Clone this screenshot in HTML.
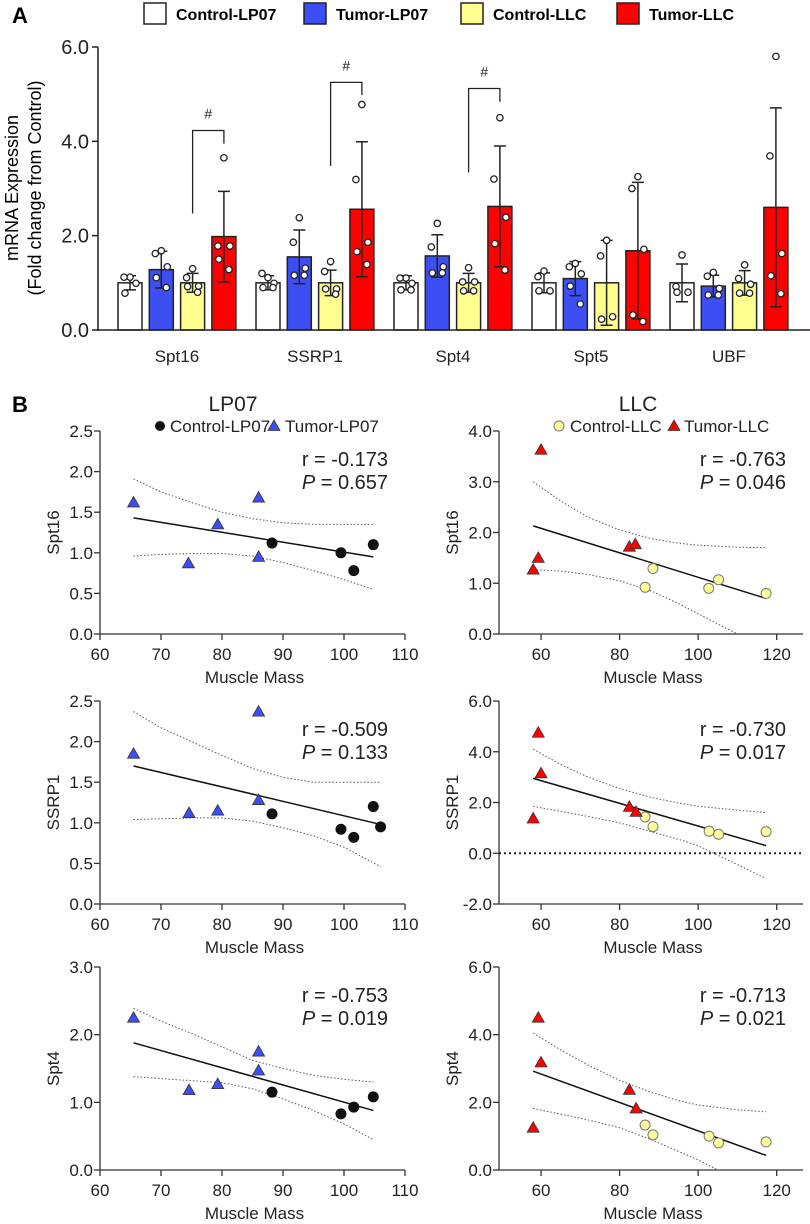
<!DOCTYPE html>
<html><head><meta charset="utf-8"><style>
html,body{margin:0;padding:0;background:#fff;}
svg{display:block;font-family:"Liberation Sans",Arial,sans-serif;}
</style></head><body>
<svg id="fig" width="810" height="1224" viewBox="0 0 810 1224" xmlns="http://www.w3.org/2000/svg">
<defs id="defs"></defs>
<text x="12" y="23" font-size="22" font-weight="bold">A</text>
<text x="12" y="412" font-size="22" font-weight="bold">B</text>
<g id="legendA">
<rect x="144" y="3" width="22" height="21" fill="#fff" stroke="#222" stroke-width="1.5"/>
<text x="176" y="20" font-size="16" font-weight="bold">Control-LP07</text>
<rect x="304" y="3" width="22" height="21" fill="#3d4ef5" stroke="#222" stroke-width="1.5"/>
<text x="336" y="20" font-size="16" font-weight="bold">Tumor-LP07</text>
<rect x="461" y="3" width="22" height="21" fill="#ffff8f" stroke="#222" stroke-width="1.5"/>
<text x="493" y="20" font-size="16" font-weight="bold">Control-LLC</text>
<rect x="617" y="3" width="22" height="21" fill="#ff0000" stroke="#222" stroke-width="1.5"/>
<text x="649" y="20" font-size="16" font-weight="bold">Tumor-LLC</text>
</g>
<g id="barChart"></g>
<g id="scatters"></g>
</svg>
<script>
// ---------- Panel A data ----------
const cats = ["Spt16","SSRP1","Spt4","Spt5","UBF"];
const ctrlLP07Mean = [1,1,1,1,1];
const tumorLP07Mean = [1.28,1.55,1.57,1.09,0.93];
const ctrlLLCMean = [1,1,1,1,1];
const tumorLLCMean = [1.98,2.56,2.62,1.68,2.6];
const ctrlLP07SD = [0.15,0.15,0.15,0.21,0.4];
const tumorLP07SD = [0.39,0.57,0.45,0.36,0.23];
const ctrlLLCSD = [0.2,0.27,0.2,0.9,0.26];
const tumorLLCSD = [0.96,1.43,1.28,1.45,2.11];
const ctrlLP07Pts = [[1.12,1.12,0.99,0.78],[1.11,1.2,0.99,0.9,0.9],[1.1,1.1,0.99,0.85,0.85],[1.25,1.13,0.83,0.83],[1.59,0.92,0.8,0.8]];
const tumorLP07Pts = [[1.68,1.62,1.34,1.11,0.9],[2.38,1.86,1.31,1.16,1.16],[2.26,1.76,1.34,1.21,1.21],[1.41,1.34,1.19,0.93,0.55],[1.22,1.14,0.88,0.74,0.74]];
const ctrlLLCPts = [[1.3,1.11,0.93,0.92,0.8],[1.45,1.24,0.87,0.87,0.76],[1.32,1.02,1.02,0.83,0.83],[1.9,1.57,0.28,0.23],[1.38,1.09,0.97,0.78,0.78]];
const tumorLLCPts = [[3.65,1.78,1.78,1.5,1.28],[4.78,3.19,1.86,1.66,1.39],[4.5,3.2,2.39,1.83,1.27],[3.25,3.0,1.71,0.32,0.18],[5.8,3.69,1.62,1.15,0.77]];
const yTicksA = [0,2,4,6];
const yTickLabelsA = ["0.0","2.0","4.0","6.0"];
const bracketCat = [0,1,2];
const bracketLeft = [2.47,3.48,3.34];
const bracketRight = [3.95,4.98,4.84];
const bracketTop = [4.23,5.25,5.12];

// ---------- Panel B data ----------
const rowLabels = ["Spt16","SSRP1","Spt4"];
const lpCtrlX = [[88.2,99.5,101.6,104.8],[88.2,99.5,101.6,104.8,106],[88.2,99.5,101.6,104.8]];
const lpCtrlY = [[1.12,1.0,0.78,1.1],[1.11,0.92,0.82,1.2,0.95],[1.15,0.83,0.93,1.08]];
const lpTumX = [[65.5,74.5,79.3,86,86],[65.5,74.6,79.3,86,86],[65.5,74.6,79.3,86,86]];
const lpTumY = [[1.62,0.87,1.35,1.68,0.95],[1.85,1.12,1.15,2.37,1.28],[2.25,1.18,1.27,1.75,1.47]];
const lpFitX = [[65.5,104.8],[65.5,106],[65.5,104.8]];
const lpFitY = [[1.43,0.95],[1.7,0.98],[1.88,0.88]];
const lpCIx = [[65.5,70,75,80,85,90,95,100,104.8],[65.5,70,75,80,85,90,95,100,106],[65.5,70,75,80,85,90,95,100,104.8]];
const lpCIup = [[1.91,1.75,1.62,1.5,1.42,1.37,1.35,1.35,1.35],[2.37,2.17,2.0,1.83,1.67,1.56,1.5,1.5,1.5],[2.39,2.2,2.02,1.82,1.62,1.5,1.4,1.34,1.3]];
const lpCIlo = [[0.96,0.98,0.99,0.99,0.96,0.88,0.78,0.67,0.55],[1.04,1.05,1.06,1.06,1.02,0.94,0.84,0.7,0.46],[1.38,1.35,1.32,1.29,1.2,1.05,0.88,0.68,0.45]];
const lpYMax = [2.5,2.5,3];
const lpYStep = [0.5,0.5,1];
const lpR = ["r = -0.173","r = -0.509","r = -0.753"];
const lpP = ["0.657","0.133","0.019"];
const lpXTicks = [60,70,80,90,100,110];

const llcCtrlX = [[86.5,88.5,102.7,105.2,117.3],[86.5,88.5,102.8,105.2,117.3],[86.5,88.5,102.8,105.2,117.3]];
const llcCtrlY = [[0.92,1.29,0.9,1.07,0.8],[1.43,1.05,0.87,0.75,0.85],[1.33,1.04,1.0,0.8,0.83]];
const llcTumX = [[60,59.3,58,82.5,84],[59.3,60,58,82.5,84.2],[59.3,60,58,82.5,84.2]];
const llcTumY = [[3.63,1.5,1.27,1.72,1.77],[4.75,3.15,1.37,1.83,1.63],[4.5,3.18,1.25,2.37,1.82]];
const llcFitX = [[58,117.3],[58,117.3],[58,117.3]];
const llcFitY = [[2.13,0.7],[2.95,0.3],[2.92,0.43]];
const llcCIx = [[58,65,72,80,88,95,100,110,117.3],[58,65,72,80,88,95,100,110,117.3],[58,65,72,80,88,95,100,110,117.3]];
const llcCIup = [[3.0,2.62,2.3,2.05,1.88,1.79,1.75,1.71,1.7],[4.1,3.5,3.0,2.55,2.2,1.98,1.85,1.7,1.6],[4.05,3.55,3.1,2.65,2.3,2.05,1.92,1.78,1.72]];
const llcCIlo = [[1.27,1.24,1.17,1.05,0.85,0.6,0.4,0.0,-0.3],[1.85,1.65,1.45,1.2,0.85,0.55,0.3,-0.45,-1.0],[1.82,1.65,1.48,1.25,0.9,0.55,0.3,-0.3,-0.7]];
const llcYMin = [0,-2,0];
const llcYMax = [4,6,6];
const llcYStep = [1,2,2];
const llcR = ["r = -0.763","r = -0.730","r = -0.713"];
const llcP = ["0.046","0.017","0.021"];
const llcXTicks = [60,80,100,120];

const NS = "http://www.w3.org/2000/svg";
function mk(parent, tag, attrs, text){
  const e = document.createElementNS(NS, tag);
  for (const k in attrs) e.setAttribute(k, attrs[k]);
  if (text !== undefined) e.textContent = text;
  parent.appendChild(e);
  return e;
}

// ---------- Panel A drawing ----------
(function(){
  const g = document.getElementById('barChart');
  const y0 = 330, pxPerUnit = 47.17;
  const yA = v => y0 - v*pxPerUnit;
  const xBar = (c,s) => 118 + c*138 + s*31.3;
  const bw = 24;
  const means = [ctrlLP07Mean,tumorLP07Mean,ctrlLLCMean,tumorLLCMean];
  const sds = [ctrlLP07SD,tumorLP07SD,ctrlLLCSD,tumorLLCSD];
  const pts = [ctrlLP07Pts,tumorLP07Pts,ctrlLLCPts,tumorLLCPts];
  const fills = ["#ffffff","#3d4ef5","#ffff8f","#ff0000"];
  const sNames = ["control-lp07","tumor-lp07","control-llc","tumor-llc"];
  const jit = [0,-6,6,-5,5];
  let e = mk(g,'line',{x1:98,y1:yA(6),x2:98,y2:y0+1,stroke:'#222','stroke-width':1.5});
  
  
  yTicksA.forEach((t,i)=>{
    const tk = mk(g,'line',{x1:92,y1:yA(t),x2:98,y2:yA(t),stroke:'#222','stroke-width':1.5});
    
    
    const tl = mk(g,'text',{x:89,y:yA(t)+7,'font-size':20,'text-anchor':'end',fill:'#222'},yTickLabelsA[i]);
    
    
  });
  const t1 = mk(g,'text',{x:0,y:0,'font-size':18,'text-anchor':'middle',transform:'translate(18,188) rotate(-90)'},'mRNA Expression');
  
  
  const t2 = mk(g,'text',{x:0,y:0,'font-size':18,'text-anchor':'middle',transform:'translate(41,188) rotate(-90)'},'(Fold change from Control)');
  
  
  cats.forEach((c,ci)=>{
    for (let s=0;s<4;s++){
      const x = xBar(ci,s), m = means[s][ci], sd = sds[s][ci];
      const r = mk(g,'rect',{x:x,y:yA(m),width:bw,height:y0-yA(m),fill:fills[s],stroke:'#222','stroke-width':1.5});
      
      
      const cx = x+bw/2;
      const eb = mk(g,'path',{d:`M${cx},${yA(m+sd)}V${yA(Math.max(0,m-sd))}M${cx-6},${yA(m+sd)}H${cx+6}M${cx-6},${yA(Math.max(0,m-sd))}H${cx+6}`,stroke:'#222','stroke-width':1.5,fill:'none'});
      
      
      pts[s][ci].forEach((v,pi)=>{
        const p = mk(g,'circle',{cx:cx+jit[pi%5],cy:yA(v),r:3.2,fill:'#fff',stroke:'#222','stroke-width':1.3});
        
        
      });
    }
    const cl = mk(g,'text',{x:xBar(ci,1.5)+bw/2,y:362,'font-size':17,'text-anchor':'middle',fill:'#222'},c);
    
    
  });
  e = mk(g,'line',{x1:97,y1:y0,x2:810,y2:y0,stroke:'#222','stroke-width':1.5});
  
  
  bracketCat.forEach((c,i)=>{
    const xl = xBar(c,2)+bw/2, xr = xBar(c,3)+bw/2;
    const b = mk(g,'path',{d:`M${xl},${yA(bracketLeft[i])}V${yA(bracketTop[i])}H${xr}V${yA(bracketRight[i])}`,stroke:'#222','stroke-width':1.3,fill:'none'});
    
    
    const h = mk(g,'text',{x:(xl+xr)/2,y:yA(bracketTop[i])-12,'font-size':14,'text-anchor':'middle',fill:'#222'},'#');
    
    
  });
})();

// ---------- Panel B drawing ----------
(function(){
  const g = document.getElementById('scatters');
  const defs = document.getElementById('defs');
  const tops = [431,701,967], H = 203;
  let clipN = 0;
  function panel(opts){
    const {ax0, ax1, xmin, xmax, ymin, ymax, step, top, xTicks, ylab, labX, ctrlX, ctrlY, tumX, tumY, fitX, fitY, ciX, ciUp, ciLo, r, p, ctrlFill, ctrlStroke, tumFill, zeroLine, name} = opts;
    const pg = mk(g,'g',{});
    
    
    const X = v => ax0 + (v-xmin)/(xmax-xmin)*(ax1-ax0);
    const Y = v => top + H - (v-ymin)/(ymax-ymin)*H;
    const cid = 'clip'+(clipN++);
    const cp = mk(defs,'clipPath',{id:cid});
    mk(cp,'rect',{x:ax0,y:top-20,width:ax1-ax0,height:H+20});
    let e = mk(pg,'line',{x1:ax0,y1:top,x2:ax0,y2:top+H,stroke:'#333','stroke-width':1.3});
    
    
    e = mk(pg,'line',{x1:ax0,y1:top+H,x2:ax1,y2:top+H,stroke:'#333','stroke-width':1.3});
    
    
    for (let v=ymin; v<=ymax+1e-9; v+=step){
      const tk = mk(pg,'line',{x1:ax0-6,y1:Y(v),x2:ax0,y2:Y(v),stroke:'#333','stroke-width':1.3});
      
      
      const tl = mk(pg,'text',{x:ax0-7,y:Y(v)+6,'font-size':17,'text-anchor':'end',fill:'#222'},v.toFixed(1));
      
      
    }
    xTicks.forEach(v=>{
      const tk = mk(pg,'line',{x1:X(v),y1:top+H,x2:X(v),y2:top+H+6,stroke:'#333','stroke-width':1.3});
      
      
      const tl = mk(pg,'text',{x:X(v),y:top+H+26,'font-size':17,'text-anchor':'middle',fill:'#222'},String(v));
      
      
    });
    e = mk(pg,'text',{x:(ax0+ax1)/2+2,y:top+H+49,'font-size':17,'text-anchor':'middle',fill:'#222'},'Muscle Mass');
    
    
    e = mk(pg,'text',{x:0,y:0,'font-size':17,'text-anchor':'middle',fill:'#222',transform:`translate(${labX},${top+H/2}) rotate(-90)`},ylab);
    
    
    if (zeroLine){
      e = mk(pg,'line',{x1:ax0,y1:Y(0),x2:ax1-2,y2:Y(0),stroke:'#222','stroke-width':2,'stroke-dasharray':'2,3'});
      
      
    }
    const cg = mk(pg,'g',{'clip-path':`url(#${cid})`});
    
    
    const up = ciX.map((v,i)=>`${i?'L':'M'}${X(v)},${Y(ciUp[i])}`).join('');
    const lo = ciX.map((v,i)=>`${i?'L':'M'}${X(v)},${Y(ciLo[i])}`).join('');
    e = mk(cg,'path',{d:up,fill:'none',stroke:'#555','stroke-width':1,'stroke-dasharray':'1.5,2'});
    
    
    e = mk(cg,'path',{d:lo,fill:'none',stroke:'#555','stroke-width':1,'stroke-dasharray':'1.5,2'});
    
    
    e = mk(pg,'line',{x1:X(fitX[0]),y1:Y(fitY[0]),x2:X(fitX[1]),y2:Y(fitY[1]),stroke:'#111','stroke-width':1.5});
    
    
    ctrlX.forEach((v,i)=>{
      const c = mk(pg,'circle',{cx:X(v),cy:Y(ctrlY[i]),r:5,fill:ctrlFill,stroke:ctrlStroke,'stroke-width':1});
      
      
    });
    tumX.forEach((v,i)=>{
      const cx = X(v), cy = Y(tumY[i]);
      const t = mk(pg,'path',{d:`M${cx},${cy-6}L${cx+6},${cy+4.5}L${cx-6},${cy+4.5}Z`,fill:tumFill,stroke:'#333','stroke-width':0.8});
      
      
    });
    e = mk(pg,'text',{x:ax1-17,y:top+35,'font-size':20,'text-anchor':'end',fill:'#222'},r);
    
    
    e = mk(pg,'text',{x:ax1-17,y:top+58,'font-size':20,'text-anchor':'end',fill:'#222'});
    
    
    mk(e,'tspan',{'font-style':'italic'},'P');
    mk(e,'tspan',{},' = '+p);
  }
  for (let i=0;i<3;i++){
    panel({name:'scatter-lp07-'+rowLabels[i].toLowerCase(),ax0:100,ax1:405,xmin:60,xmax:110,ymin:0,ymax:lpYMax[i],step:lpYStep[i],top:tops[i],xTicks:lpXTicks,ylab:rowLabels[i],labX:59,ctrlX:lpCtrlX[i],ctrlY:lpCtrlY[i],tumX:lpTumX[i],tumY:lpTumY[i],fitX:lpFitX[i],fitY:lpFitY[i],ciX:lpCIx[i],ciUp:lpCIup[i],ciLo:lpCIlo[i],r:lpR[i],p:lpP[i],ctrlFill:'#111',ctrlStroke:'#111',tumFill:'#3d4ef5',zeroLine:false});
    panel({name:'scatter-llc-'+rowLabels[i].toLowerCase(),ax0:499,ax1:803,xmin:49.3,xmax:126.7,ymin:llcYMin[i],ymax:llcYMax[i],step:llcYStep[i],top:tops[i],xTicks:llcXTicks,ylab:rowLabels[i],labX:458,ctrlX:llcCtrlX[i],ctrlY:llcCtrlY[i],tumX:llcTumX[i],tumY:llcTumY[i],fitX:llcFitX[i],fitY:llcFitY[i],ciX:llcCIx[i],ciUp:llcCIup[i],ciLo:llcCIlo[i],r:llcR[i],p:llcP[i],ctrlFill:'#ffff99',ctrlStroke:'#777',tumFill:'#ff0000',zeroLine:i===1});
  }
  let e = mk(g,'text',{x:233,y:411,'font-size':21,'text-anchor':'middle',fill:'#222'},'LP07');
  
  
  e = mk(g,'text',{x:638,y:411,'font-size':21,'text-anchor':'middle',fill:'#222'},'LLC');
  
  
  e = mk(g,'circle',{cx:160,cy:426,r:5,fill:'#111'});
  
  
  e = mk(g,'text',{x:170,y:432,'font-size':17,fill:'#222'},'Control-LP07');
  
  
  e = mk(g,'path',{d:'M274,420L280,430.5L268,430.5Z',fill:'#3d4ef5',stroke:'#333','stroke-width':0.8});
  
  
  e = mk(g,'text',{x:285,y:432,'font-size':17,fill:'#222'},'Tumor-LP07');
  
  
  e = mk(g,'circle',{cx:559,cy:426,r:5,fill:'#ffff99',stroke:'#777','stroke-width':1});
  
  
  e = mk(g,'text',{x:570,y:432,'font-size':17,fill:'#222'},'Control-LLC');
  
  
  e = mk(g,'path',{d:'M674,420L680,430.5L668,430.5Z',fill:'#ff0000',stroke:'#333','stroke-width':0.8});
  
  
  e = mk(g,'text',{x:684,y:432,'font-size':17,fill:'#222'},'Tumor-LLC');
  
  
})();
</script>
</body></html>
